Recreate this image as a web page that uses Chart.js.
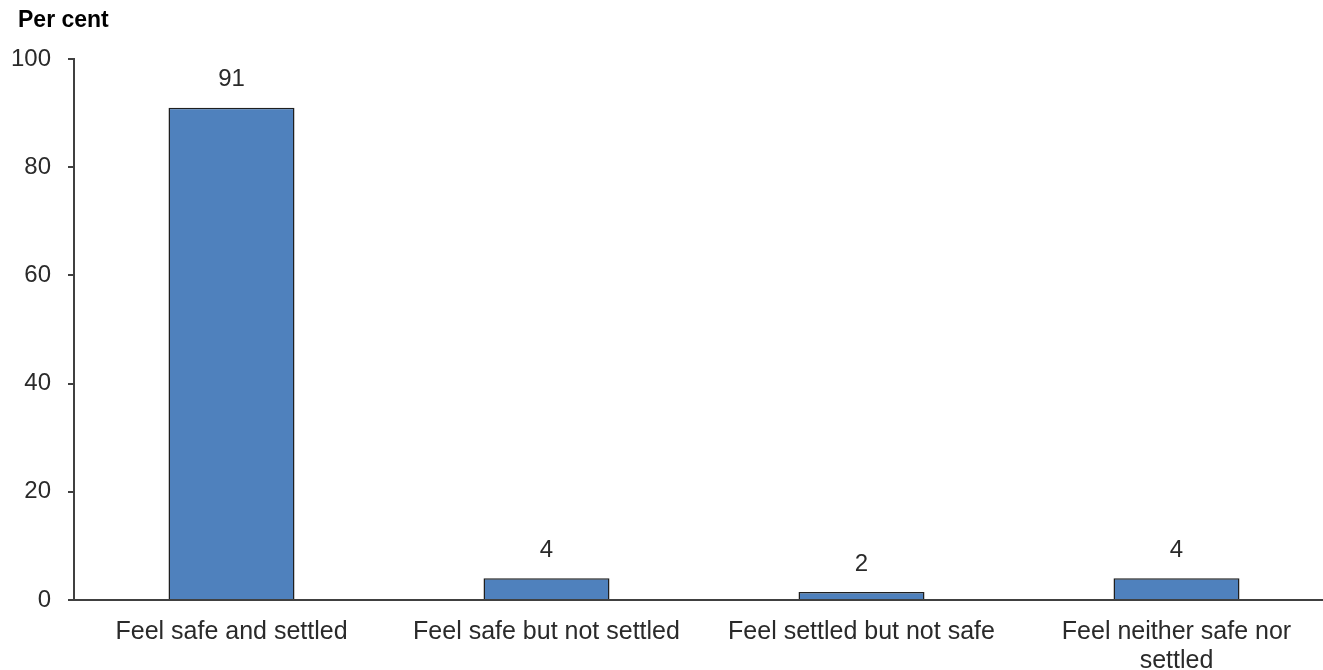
<!DOCTYPE html>
<html>
<head>
<meta charset="utf-8">
<script src="https://cdn.jsdelivr.net/npm/chart.js@4"></script>
<style>
  html, body { margin: 0; padding: 0; background: #fff; overflow: hidden; }
  #wrap { position: relative; width: 1334px; height: 670px; }
</style>
</head>
<body>
<div id="wrap"><canvas id="chart"></canvas></div>
<script>
// categories and values
var categories = [
  "Feel safe and settled",
  "Feel safe but not settled",
  "Feel settled but not safe",
  ["Feel neither safe nor", "settled"]
];
var shares = [91, 4, 1.5, 4];
var shareLabels = ["91", "4", "2", "4"];
var yTicks = [0, 20, 40, 60, 80, 100];

var FONT = "'Liberation Sans', Arial, sans-serif";
var AXIS = "#404040";
var TEXT = "#2a2a2a";

// value labels above the bars + the "Per cent" unit
var barLabels = {
  id: "barLabels",
  afterDatasetsDraw: function (chart) {
    var ctx = chart.ctx;
    var meta = chart.getDatasetMeta(0);
    ctx.save();
    ctx.font = "24px " + FONT;
    ctx.fillStyle = TEXT;
    ctx.textAlign = "center";
    ctx.textBaseline = "middle";
    meta.data.forEach(function (bar, i) {
      ctx.fillText(shareLabels[i], bar.x, bar.y - 28);
    });
    ctx.font = "bold 23px " + FONT;
    ctx.textAlign = "left";
    ctx.fillStyle = "#000";
    ctx.fillText("Per cent", 18, 21);
    ctx.restore();
  }
};

new Chart(document.getElementById("chart"), {
  type: "bar",
  data: {
    labels: categories,
    datasets: [{
      data: shares,
      backgroundColor: "#4f81bd",
      borderColor: "#1f1f1f",
      borderWidth: 1.5,
      borderSkipped: "bottom",
      categoryPercentage: 1,
      barPercentage: 0.4
    }]
  },
  options: {
    responsive: true,
    maintainAspectRatio: false,
    animation: false,
    layout: { padding: { top: 59, right: 0, left: 0, bottom: 0 } },
    plugins: {
      legend: { display: false },
      tooltip: { enabled: false },
      title: { display: false }
    },
    scales: {
      x: {
        grid: { display: true, drawOnChartArea: false, drawTicks: false },
        border: { color: AXIS, width: 2 },
        ticks: {
          color: TEXT,
          font: { family: FONT, size: 25, lineHeight: 1.18 },
          padding: 17,
          maxRotation: 0,
          autoSkip: false
        },
        afterFit: function (s) { s.height = 70; }
      },
      y: {
        min: 0,
        max: 100,
        afterBuildTicks: function (s) {
          s.ticks = yTicks.map(function (v) { return { value: v }; });
        },
        grid: { drawOnChartArea: false, tickLength: 6, color: AXIS, lineWidth: 2 },
        border: { color: AXIS, width: 2 },
        ticks: {
          color: TEXT,
          font: { family: FONT, size: 24 },
          padding: 17
        },
        afterFit: function (s) { s.width = 74; }
      }
    }
  },
  plugins: [barLabels]
});
</script>
</body>
</html>
